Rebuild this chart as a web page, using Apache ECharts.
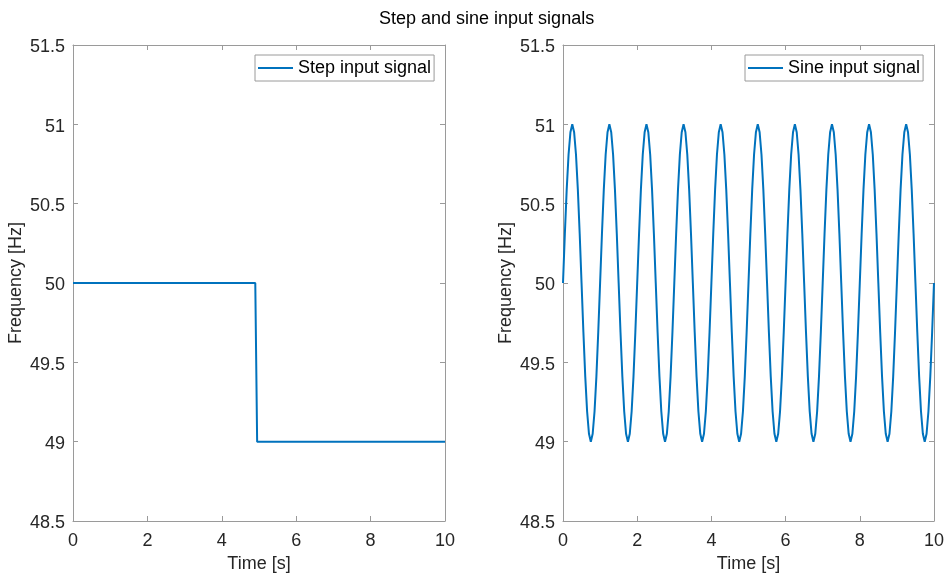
<!DOCTYPE html>
<html>
<head>
<meta charset="utf-8">
<title>Step and sine input signals</title>
<script src="https://cdn.jsdelivr.net/npm/echarts@6/dist/echarts.min.js"></script>
<style>
  html, body { margin: 0; padding: 0; background: #ffffff; }
  #chart { width: 947px; height: 578px; }
</style>
</head>
<body>
<div id="chart"></div>
<script>
// Step input: frequency holds at 50 Hz, then drops to 49 Hz just before t = 5 s
const stepTime = [0, 4.9, 4.95, 10];
const stepFreq = [50, 50, 49, 49];

// Sine input: sampled every 0.05 s over 0..10 s (1 Hz, +/-1 Hz around 50 Hz)
const sineStart = 0;
const sineStep = 0.05;
const sineFreq = [
  50, 50.31, 50.59, 50.81, 50.95, 51, 50.95, 50.81, 50.59, 50.31, 50, 49.69, 49.41, 49.19, 49.05, 49, 49.05, 49.19, 49.41, 49.69,
  50, 50.31, 50.59, 50.81, 50.95, 51, 50.95, 50.81, 50.59, 50.31, 50, 49.69, 49.41, 49.19, 49.05, 49, 49.05, 49.19, 49.41, 49.69,
  50, 50.31, 50.59, 50.81, 50.95, 51, 50.95, 50.81, 50.59, 50.31, 50, 49.69, 49.41, 49.19, 49.05, 49, 49.05, 49.19, 49.41, 49.69,
  50, 50.31, 50.59, 50.81, 50.95, 51, 50.95, 50.81, 50.59, 50.31, 50, 49.69, 49.41, 49.19, 49.05, 49, 49.05, 49.19, 49.41, 49.69,
  50, 50.31, 50.59, 50.81, 50.95, 51, 50.95, 50.81, 50.59, 50.31, 50, 49.69, 49.41, 49.19, 49.05, 49, 49.05, 49.19, 49.41, 49.69,
  50, 50.31, 50.59, 50.81, 50.95, 51, 50.95, 50.81, 50.59, 50.31, 50, 49.69, 49.41, 49.19, 49.05, 49, 49.05, 49.19, 49.41, 49.69,
  50, 50.31, 50.59, 50.81, 50.95, 51, 50.95, 50.81, 50.59, 50.31, 50, 49.69, 49.41, 49.19, 49.05, 49, 49.05, 49.19, 49.41, 49.69,
  50, 50.31, 50.59, 50.81, 50.95, 51, 50.95, 50.81, 50.59, 50.31, 50, 49.69, 49.41, 49.19, 49.05, 49, 49.05, 49.19, 49.41, 49.69,
  50, 50.31, 50.59, 50.81, 50.95, 51, 50.95, 50.81, 50.59, 50.31, 50, 49.69, 49.41, 49.19, 49.05, 49, 49.05, 49.19, 49.41, 49.69,
  50, 50.31, 50.59, 50.81, 50.95, 51, 50.95, 50.81, 50.59, 50.31, 50, 49.69, 49.41, 49.19, 49.05, 49, 49.05, 49.19, 49.41, 49.69,
  50
];

const timeRange = [0, 10];
const timeInterval = 2;
const freqRange = [48.5, 51.5];
const freqInterval = 0.5;

const chartTitle = 'Step and sine input signals';
const xName = 'Time [s]';
const yName = 'Frequency [Hz]';
const stepName = 'Step input signal';
const sineName = 'Sine input signal';

const FONT = "'Liberation Sans', Arial, Helvetica, sans-serif";
const TEXT = '#262626';
const AXIS = '#9a9a9a';
const LINE = '#0072BD';

const stepData = stepTime.map((t, i) => [t, stepFreq[i]]);
const sineData = sineFreq.map((v, i) => [+(sineStart + i * sineStep).toFixed(2), v]);

function xAxisFor(grid, pos, withLabels) {
  return {
    type: 'value', gridIndex: grid, position: pos,
    min: timeRange[0], max: timeRange[1], interval: timeInterval,
    name: withLabels ? xName : '', nameLocation: 'middle', nameGap: 34,
    nameTextStyle: { color: TEXT, fontFamily: FONT, fontSize: 18 },
    axisLine: { show: true, onZero: false, lineStyle: { color: AXIS, width: 1 } },
    axisTick: { show: true, inside: true, length: 5, lineStyle: { color: AXIS } },
    axisLabel: { show: withLabels, color: TEXT, fontFamily: FONT, fontSize: 18, margin: 11 },
    splitLine: { show: false }
  };
}

function yAxisFor(grid, pos, withLabels) {
  return {
    type: 'value', gridIndex: grid, position: pos,
    min: freqRange[0], max: freqRange[1], interval: freqInterval,
    name: withLabels ? yName : '', nameLocation: 'middle', nameGap: 48,
    nameTextStyle: { color: TEXT, fontFamily: FONT, fontSize: 18 },
    axisLine: { show: true, onZero: false, lineStyle: { color: AXIS, width: 1 } },
    axisTick: { show: true, inside: true, length: 5, lineStyle: { color: AXIS } },
    axisLabel: {
      show: withLabels, margin: 8,
      formatter: '{v|{value}}',
      rich: { v: { color: TEXT, fontFamily: FONT, fontSize: 18, padding: [5, 0, 0, 0] } }
    },
    splitLine: { show: false }
  };
}

function legendFor(name, left) {
  return {
    data: [name], left: left, top: 55,
    orient: 'horizontal',
    backgroundColor: '#ffffff',
    borderColor: AXIS, borderWidth: 1, borderRadius: 0,
    padding: [4, 3, 4, 3],
    icon: 'rect', itemWidth: 35, itemHeight: 2,
    textStyle: { color: '#000000', fontFamily: FONT, fontSize: 18 },
    selectedMode: false
  };
}

const chart = echarts.init(document.getElementById('chart'), null, { renderer: 'canvas' });
chart.setOption({
  animation: false,
  backgroundColor: '#ffffff',
  title: {
    text: chartTitle, left: 374, top: 5,
    textStyle: { color: '#000000', fontFamily: FONT, fontSize: 18, fontWeight: 'normal' }
  },
  grid: [
    { left: 73, top: 45, width: 372, height: 478 },
    { left: 563, top: 45, width: 372, height: 478 }
  ],
  xAxis: [
    xAxisFor(0, 'bottom', true),
    xAxisFor(0, 'top', false),
    xAxisFor(1, 'bottom', true),
    xAxisFor(1, 'top', false)
  ],
  yAxis: [
    yAxisFor(0, 'left', true),
    yAxisFor(0, 'right', false),
    yAxisFor(1, 'left', true),
    yAxisFor(1, 'right', false)
  ],
  legend: [legendFor(stepName, 255), legendFor(sineName, 745)],
  series: [
    {
      name: stepName, type: 'line', xAxisIndex: 0, yAxisIndex: 0,
      data: stepData, showSymbol: false, symbol: 'none',
      lineStyle: { color: LINE, width: 2 }, itemStyle: { color: LINE }
    },
    {
      name: sineName, type: 'line', xAxisIndex: 2, yAxisIndex: 2,
      data: sineData, showSymbol: false, symbol: 'none',
      lineStyle: { color: LINE, width: 2 }, itemStyle: { color: LINE }
    }
  ]
});
</script>
</body>
</html>
